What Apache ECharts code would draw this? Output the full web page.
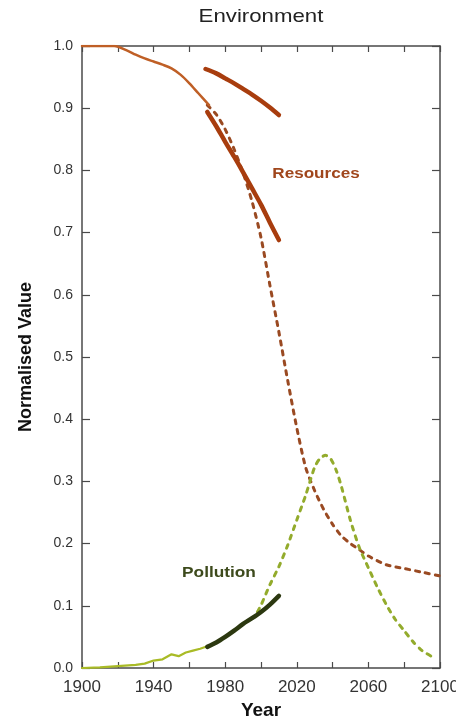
<!DOCTYPE html>
<html>
<head>
<meta charset="utf-8">
<script src="https://cdn.jsdelivr.net/npm/echarts@6/dist/echarts.min.js"></script>
<style>
  html, body { margin: 0; padding: 0; background: #fff; }
  #chart { width: 456px; height: 717px; }
</style>
</head>
<body>
<div id="chart"></div>
<script>
// Resources: historical record (thin), two observed series (thick), model run (dashed)
const resHistYears = [1900, 1910, 1918, 1925, 1930, 1935, 1940, 1945, 1950, 1955, 1960, 1965, 1971];
const resHistVals  = [1.0, 1.0, 1.0, 0.993, 0.986, 0.980, 0.975, 0.970, 0.964, 0.954, 0.940, 0.924, 0.905];

const resUpperYears = [1969, 1975, 1980, 1985, 1990, 1995, 2000, 2005, 2010];
const resUpperVals  = [0.963, 0.956, 0.948, 0.940, 0.931, 0.922, 0.912, 0.901, 0.889];

const resLowerYears = [1970, 1975, 1980, 1985, 1990, 1995, 2000, 2005, 2010];
const resLowerVals  = [0.894, 0.871, 0.846, 0.822, 0.797, 0.771, 0.745, 0.716, 0.688];

const resModelYears = [1970, 1975, 1980, 1985, 1990, 1995, 2000, 2005, 2010, 2015, 2020, 2025, 2030, 2035, 2040, 2045, 2050, 2055, 2060, 2070, 2080, 2090, 2100];
const resModelVals  = [0.905, 0.890, 0.866, 0.834, 0.796, 0.750, 0.692, 0.615, 0.540, 0.461, 0.386, 0.322, 0.285, 0.255, 0.231, 0.212, 0.200, 0.190, 0.180, 0.166, 0.160, 0.154, 0.148];

// Pollution: historical record (thin), observed (thick), model run (dashed)
const polHistYears = [1900, 1910, 1920, 1930, 1935, 1940, 1945, 1950, 1954, 1958, 1962, 1966, 1970];
const polHistVals  = [0.0, 0.001, 0.003, 0.005, 0.007, 0.012, 0.014, 0.022, 0.019, 0.025, 0.028, 0.031, 0.035];

const polObsYears = [1970, 1975, 1980, 1985, 1990, 1995, 2000, 2005, 2010];
const polObsVals  = [0.034, 0.041, 0.050, 0.060, 0.071, 0.080, 0.090, 0.102, 0.116];

const polModelYears = [1998, 2000, 2005, 2010, 2015, 2020, 2025, 2030, 2033, 2036, 2039, 2042, 2045, 2050, 2055, 2060, 2065, 2070, 2075, 2080, 2085, 2090, 2095];
const polModelVals  = [0.090, 0.101, 0.134, 0.163, 0.198, 0.238, 0.278, 0.323, 0.337, 0.342, 0.336, 0.318, 0.291, 0.237, 0.193, 0.161, 0.130, 0.102, 0.078, 0.060, 0.042, 0.028, 0.019];

// Axis ticks
const yearTicks = { min: 1900, max: 2100, step: 20, labelStep: 40 };
const valueTicks = { min: 0, max: 1, step: 0.1 };

const pairs = (xs, ys) => xs.map((x, i) => [x, ys[i]]);

const axisColor = '#4a4a4a';
const font = 'Liberation Sans, Arial, sans-serif';

const chart = echarts.init(document.getElementById('chart'));

const lineSeries = (name, xs, ys, color, width, dashed, z, smooth) => ({
  name, type: 'line', data: pairs(xs, ys), showSymbol: false, symbol: 'none',
  smooth: smooth || false, z, silent: true,
  lineStyle: { color, width, type: dashed ? [4, 6] : 'solid', cap: 'round', join: 'round' }
});

// Text drawn slightly wide, scaled horizontally about its centre
const wideText = (text, x, y, size, weight, fill, sx) => ({
  type: 'text', x, y, scaleX: sx, silent: true,
  style: { text, fontFamily: font, fontSize: size, fontWeight: weight, fill,
           textAlign: 'center', textVerticalAlign: 'middle' }
});

chart.setOption({
  animation: false,
  backgroundColor: '#ffffff',
  grid: { left: 82, right: 16, top: 46, bottom: 49, containLabel: false, outerBoundsMode: 'none' },
  xAxis: [{
    type: 'value', min: yearTicks.min, max: yearTicks.max, interval: yearTicks.step,
    name: 'Year', nameLocation: 'middle', nameGap: 31,
    nameTextStyle: { fontFamily: font, fontSize: 19, fontWeight: 'bold', color: '#111' },
    axisLine: { show: true, onZero: false, lineStyle: { color: axisColor, width: 1.5 } },
    axisTick: { show: true, inside: true, length: 6, lineStyle: { color: axisColor, width: 1.2 } },
    axisLabel: {
      fontFamily: font, fontSize: 17, color: '#333', margin: 11,
      formatter: v => ((v - yearTicks.min) % yearTicks.labelStep === 0 ? String(v) : '')
    },
    splitLine: { show: false }
  }, {
    type: 'value', position: 'top', min: yearTicks.min, max: yearTicks.max, interval: yearTicks.step,
    axisLine: { show: true, onZero: false, lineStyle: { color: axisColor, width: 1.5 } },
    axisTick: { show: true, inside: true, length: 6, lineStyle: { color: axisColor, width: 1.2 } },
    axisLabel: { show: false }, splitLine: { show: false }
  }],
  yAxis: [{
    type: 'value', min: valueTicks.min, max: valueTicks.max, interval: valueTicks.step,
    name: 'Normalised Value', nameLocation: 'middle', nameGap: 47, nameRotate: 90,
    nameTextStyle: { fontFamily: font, fontSize: 18, fontWeight: 'bold', color: '#111' },
    axisLine: { show: true, onZero: false, lineStyle: { color: axisColor, width: 1.5 } },
    axisTick: { show: true, inside: true, length: 8, lineStyle: { color: axisColor, width: 1.2 } },
    axisLabel: { fontFamily: font, fontSize: 14, color: '#333', margin: 9, formatter: v => v.toFixed(1) },
    splitLine: { show: false }
  }, {
    type: 'value', position: 'right', min: valueTicks.min, max: valueTicks.max, interval: valueTicks.step,
    axisLine: { show: true, onZero: false, lineStyle: { color: axisColor, width: 1.5 } },
    axisTick: { show: true, inside: true, length: 8, lineStyle: { color: axisColor, width: 1.2 } },
    axisLabel: { show: false }, splitLine: { show: false }
  }],
  series: [
    lineSeries('Resources model', resModelYears, resModelVals, '#9a4a22', 3, true, 2, 0.25),
    lineSeries('Resources history', resHistYears, resHistVals, '#bf5f26', 2.5, false, 3, 0.3),
    lineSeries('Resources observed A', resUpperYears, resUpperVals, '#a83d0e', 4.5, false, 4, 0.3),
    lineSeries('Resources observed B', resLowerYears, resLowerVals, '#a83d0e', 4.5, false, 4, 0.3),
    lineSeries('Pollution model', polModelYears, polModelVals, '#93ab2c', 3, true, 2, 0.25),
    lineSeries('Pollution history', polHistYears, polHistVals, '#a9bb26', 2.2, false, 3, false),
    lineSeries('Pollution observed', polObsYears, polObsVals, '#2c3810', 4.5, false, 4, 0.3)
  ],
  graphic: [
    wideText('Environment', 261, 17, 19, 'normal', '#222', 1.17),
    wideText('Resources', 316, 174, 15, 'bold', '#a0461c', 1.14),
    wideText('Pollution', 219, 573, 15, 'bold', '#3d4a1c', 1.15)
  ]
});
</script>
</body>
</html>
